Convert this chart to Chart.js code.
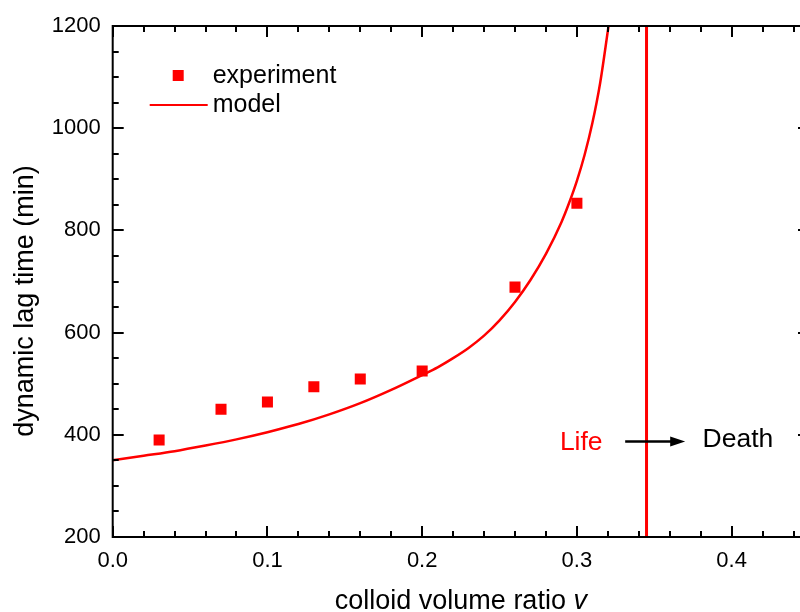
<!DOCTYPE html>
<html><head><meta charset="utf-8">
<script src="https://cdn.jsdelivr.net/npm/chart.js@4/dist/chart.umd.min.js"></script>
<style>html,body{margin:0;padding:0;overflow:hidden;background:#fff}#wrap{width:830px;height:612px}</style>
</head><body><div id="wrap"><canvas id="c" width="830" height="612"></canvas></div>
<script>
// ---- data ----
const expV = [0.03, 0.07, 0.10, 0.13, 0.16, 0.20, 0.26, 0.30];
const expT = [390, 450, 464, 494, 509, 525, 689, 853];
const modelV = [0, 0.02, 0.04, 0.06, 0.08, 0.10, 0.12, 0.14, 0.16, 0.18, 0.20, 0.21, 0.22, 0.23, 0.24, 0.25, 0.26, 0.27, 0.28, 0.29, 0.295, 0.30, 0.305, 0.31, 0.315, 0.3205];
const modelT = [350, 359, 368, 379, 391, 405, 421, 440, 462, 488, 517, 532, 550, 570, 594, 624, 660, 703, 754, 816, 854, 897, 948, 1010, 1088, 1201];
const boundaryV = [0.345, 0.345];
const boundaryT = [200, 1200];
const xTickValues = [0, 0.1, 0.2, 0.3, 0.4];
const yTickValues = [200, 400, 600, 800, 1000, 1200];
const seriesNames = ['experiment', 'model'];
const xTitle = 'colloid volume ratio ';
const xTitleVar = 'v';
const yTitle = 'dynamic lag time (min)';
const leftLabel = 'Life';
const rightLabel = 'Death';

const FONT = '"Liberation Sans", Arial, sans-serif';
const RED = '#ff0000';

const decor = {
  id: 'decor',
  afterDraw(chart) {
    const ctx = chart.ctx;
    const {left, right, top, bottom} = chart.chartArea;
    const x = chart.scales.x, y = chart.scales.y;
    ctx.save();
    // frame
    ctx.strokeStyle = '#000';
    ctx.lineWidth = 2;
    ctx.strokeRect(left, top, right - left, bottom - top);
    // inward ticks on all four sides
    ctx.beginPath();
    for (let i = 0; i <= 22; i++) {
      const px = Math.round(x.getPixelForValue(i * 0.02));
      const len = (i % 5 === 0) ? 11 : 6;
      ctx.moveTo(px, bottom); ctx.lineTo(px, bottom - len);
      ctx.moveTo(px, top); ctx.lineTo(px, top + len);
    }
    for (let t = 200; t <= 1200; t += 50) {
      const py = Math.round(y.getPixelForValue(t));
      const len = (t % 200 === 0) ? 11 : 6;
      ctx.moveTo(left, py); ctx.lineTo(left + len, py);
      ctx.moveTo(right, py); ctx.lineTo(right - len, py);
    }
    ctx.stroke();

    // legend
    ctx.fillStyle = RED;
    ctx.fillRect(left + 60, top + 44, 11, 11);
    ctx.strokeStyle = RED;
    ctx.lineWidth = 2;
    ctx.beginPath();
    ctx.moveTo(left + 37, top + 79); ctx.lineTo(left + 95, top + 79);
    ctx.stroke();
    ctx.fillStyle = '#000';
    ctx.font = '25px ' + FONT;
    ctx.textBaseline = 'middle';
    ctx.textAlign = 'left';
    ctx.fillText(seriesNames[0], left + 100, top + 50);
    ctx.fillText(seriesNames[1], left + 100, top + 79);

    // Life -> Death annotation
    const ay = y.getPixelForValue(387);
    ctx.font = '26.5px ' + FONT;
    ctx.fillStyle = RED;
    ctx.fillText(leftLabel, x.getPixelForValue(0.2890), ay + 1);
    ctx.fillStyle = '#000';
    ctx.fillText(rightLabel, x.getPixelForValue(0.3812), ay - 2);
    const ax1 = x.getPixelForValue(0.3312), ax2 = x.getPixelForValue(0.370);
    ctx.strokeStyle = '#000';
    ctx.lineWidth = 2.5;
    ctx.beginPath();
    ctx.moveTo(ax1, ay); ctx.lineTo(ax2 - 12, ay);
    ctx.stroke();
    ctx.beginPath();
    ctx.moveTo(ax2, ay); ctx.lineTo(ax2 - 15, ay - 5); ctx.lineTo(ax2 - 15, ay + 5); ctx.closePath();
    ctx.fill();

    // axis titles
    ctx.fillStyle = '#000';
    ctx.textBaseline = 'alphabetic';
    ctx.font = '27px ' + FONT;
    const w1 = ctx.measureText(xTitle).width;
    ctx.font = 'italic 27px ' + FONT;
    const w2 = ctx.measureText(xTitleVar).width;
    const sx = (left + right) / 2 - (w1 + w2) / 2;
    ctx.font = '27px ' + FONT;
    ctx.fillText(xTitle, sx, 609);
    ctx.font = 'italic 27px ' + FONT;
    ctx.fillText(xTitleVar, sx + w1, 609);

    ctx.translate(33, 301);
    ctx.rotate(-Math.PI / 2);
    ctx.font = '27px ' + FONT;
    ctx.textAlign = 'center';
    ctx.fillText(yTitle, 0, 0);
    ctx.restore();
  }
};

new Chart(document.getElementById('c'), {
  type: 'scatter',
  data: {
    datasets: [
      {
        label: seriesNames[0],
        data: expV.map((v, i) => ({x: v, y: expT[i]})),
        pointStyle: 'rect', pointRadius: 7.8, pointHoverRadius: 7.8,
        backgroundColor: RED, borderColor: RED, borderWidth: 0, showLine: false
      },
      {
        label: seriesNames[1],
        data: modelV.map((v, i) => ({x: v, y: modelT[i]})),
        showLine: true, borderColor: RED, borderWidth: 2.5, pointRadius: 0,
        cubicInterpolationMode: 'monotone', fill: false
      },
      {
        label: 'boundary',
        data: boundaryV.map((v, i) => ({x: v, y: boundaryT[i]})),
        showLine: true, borderColor: RED, borderWidth: 3, pointRadius: 0, fill: false
      }
    ]
  },
  options: {
    responsive: false, animation: false, events: [],
    layout: {padding: {top: 26, right: 21, left: 0, bottom: 0}},
    plugins: {legend: {display: false}, tooltip: {enabled: false}, title: {display: false}},
    scales: {
      x: {
        type: 'linear', min: 0, max: 0.45,
        afterBuildTicks: s => { s.ticks = xTickValues.map(v => ({value: v})); },
        afterFit: s => { s.height = 75; },
        grid: {display: false, drawTicks: false},
        border: {display: false},
        ticks: {color: '#000', font: {family: FONT, size: 22}, padding: 11, maxRotation: 0, autoSkip: false,
                callback: v => Number(v).toFixed(1)}
      },
      y: {
        type: 'linear', min: 200, max: 1200,
        afterBuildTicks: s => { s.ticks = yTickValues.map(v => ({value: v})); },
        afterFit: s => { s.width = 112.7; },
        grid: {display: false, drawTicks: false},
        border: {display: false},
        ticks: {color: '#000', font: {family: FONT, size: 22}, padding: 12, autoSkip: false,
                callback: v => String(v)}
      }
    }
  },
  plugins: [decor]
});
</script>
</body></html>
